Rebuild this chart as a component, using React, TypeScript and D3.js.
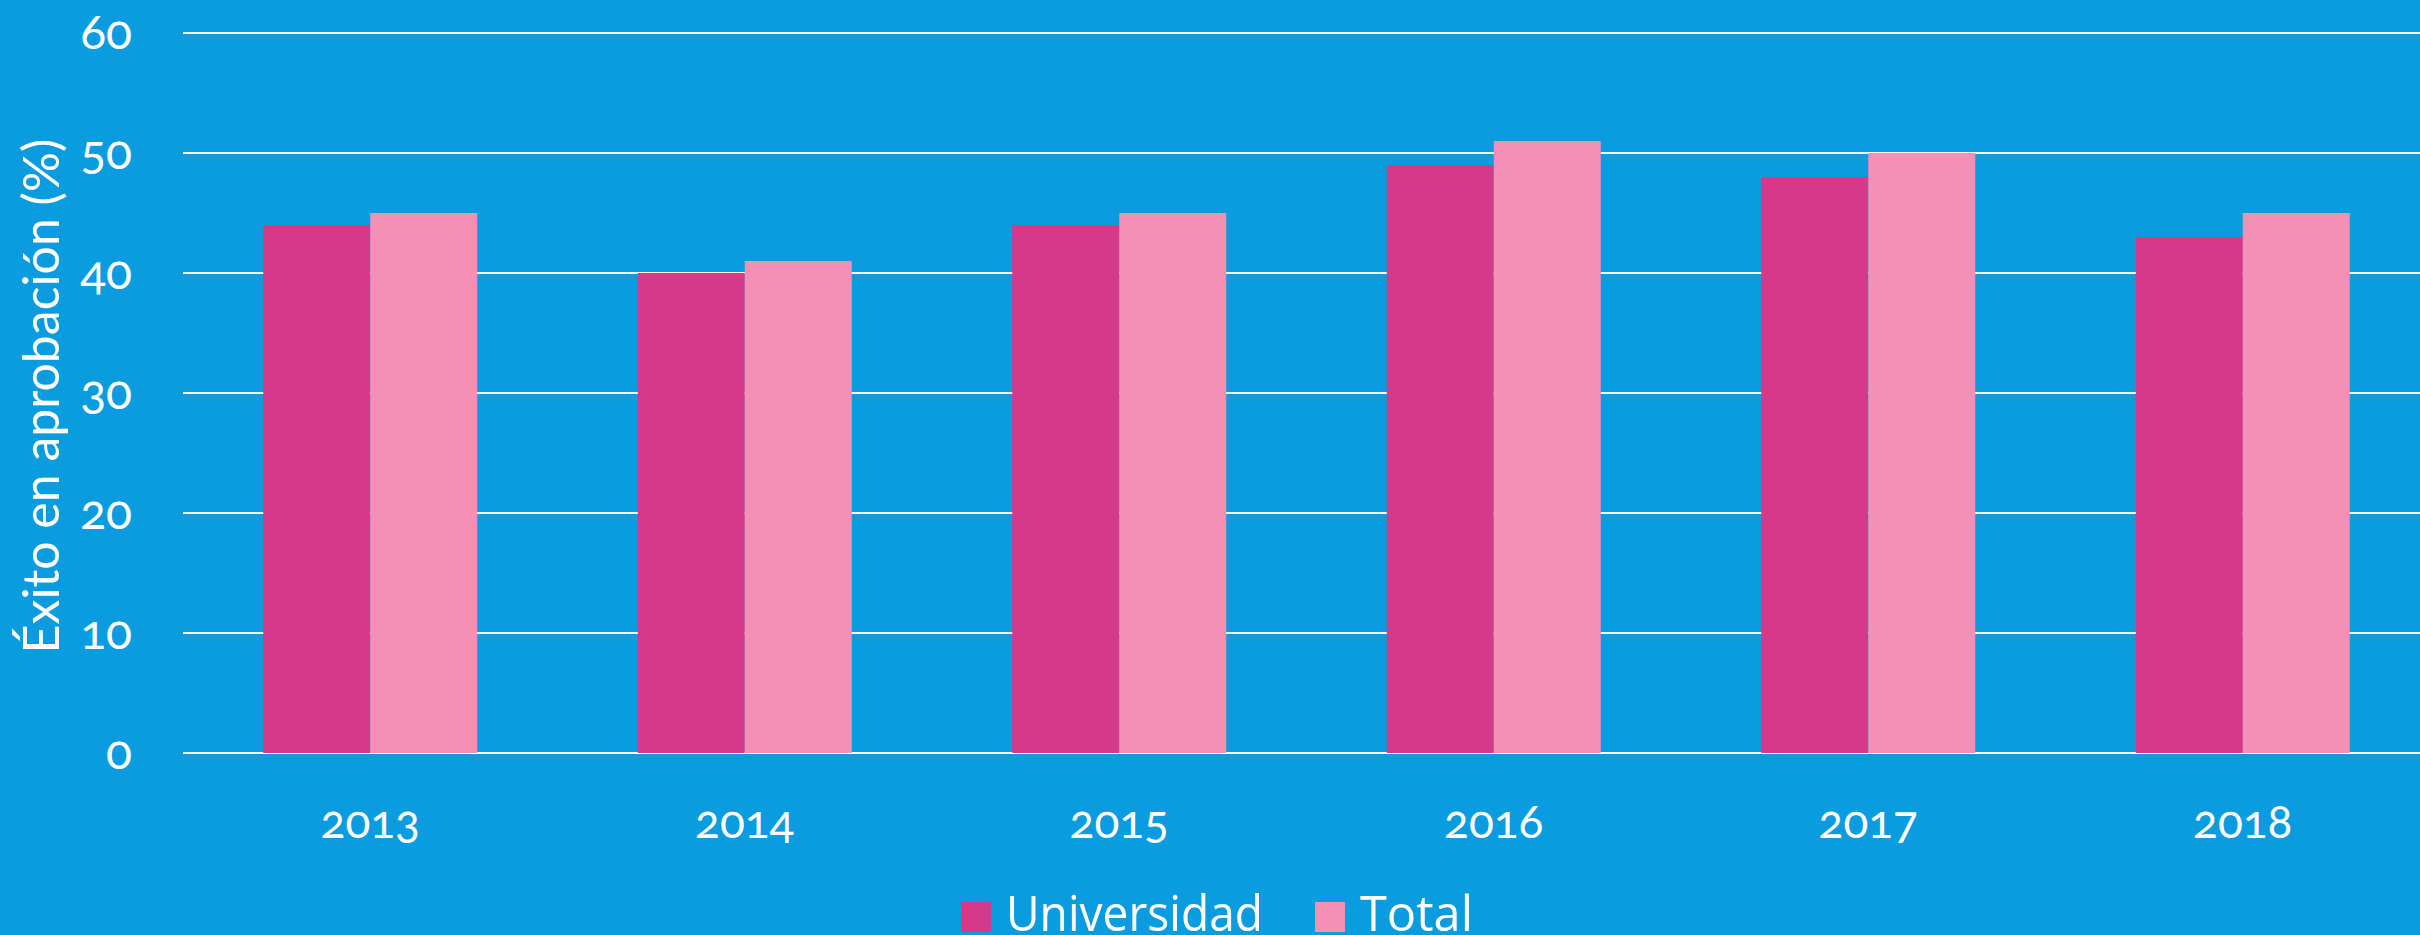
import React from "react";
import * as d3 from "d3";

const years = ["2013", "2014", "2015", "2016", "2017", "2018"];
const universidad = [44, 40, 44, 49, 48, 43];
const total = [45, 41, 45, 51, 50, 45];
const seriesNames = ["Universidad", "Total"];
const seriesColors = ["#D6388A", "#F48FB6"];
const yTicks = [0, 10, 20, 30, 40, 50, 60];

const W = 2420;
const H = 935;
const BG = "#0B9BDF";

export default function App() {
  const x0 = d3.scaleBand<string>().domain(years).range([183, 2430]).paddingInner(0.4286).paddingOuter(0.2143);
  const x1 = d3.scaleBand<string>().domain(seriesNames).range([0, x0.bandwidth()]).padding(0);
  const y = d3.scaleLinear().domain([0, 60]).range([753, 33]);
  const values = [universidad, total];
  const axisFont = "Lato, 'Open Sans', sans-serif";
  const legendFont = "'Open Sans', sans-serif";

  return (
    <svg width={W} height={H} style={{ position: "fixed", left: 0, top: 0, display: "block" }}>
      <rect x={0} y={0} width={W} height={H} fill={BG} />
      {yTicks.map((t) => (
        <g key={t}>
          <line x1={183} x2={W} y1={y(t)} y2={y(t)} stroke="#fff" strokeWidth={2} />
          <text
            x={132}
            y={y(t) + 16}
            textAnchor="end"
            fill="#fff"
            fontFamily={axisFont}
            fontSize={48}
            style={{ fontVariantNumeric: "oldstyle-nums" }}
          >
            {t}
          </text>
        </g>
      ))}
      {years.map((yr, i) => (
        <g key={yr} transform={`translate(${x0(yr)},0)`}>
          {seriesNames.map((s, j) => (
            <rect
              key={s}
              x={x1(s)}
              y={y(values[j][i])}
              width={x1.bandwidth()}
              height={y(0) - y(values[j][i])}
              fill={seriesColors[j]}
            />
          ))}
          <text
            x={x0.bandwidth() / 2}
            y={838}
            textAnchor="middle"
            fill="#fff"
            fontFamily={axisFont}
            fontSize={46}
            style={{ fontVariantNumeric: "oldstyle-nums" }}
          >
            {yr}
          </text>
        </g>
      ))}
      <text
        transform={`translate(59,396) rotate(-90)`}
        textAnchor="middle"
        fill="#fff"
        fontFamily={axisFont}
        fontSize={50}
      >
        Éxito en aprobación (%)
      </text>
      <g>
        <rect x={961} y={902} width={30} height={30} fill={seriesColors[0]} />
        <text x={1006} y={931} fill="#fff" fontFamily={legendFont} fontSize={50} textLength={257} lengthAdjust="spacingAndGlyphs">
          {seriesNames[0]}
        </text>
        <rect x={1315} y={902} width={30} height={30} fill={seriesColors[1]} />
        <text x={1360} y={931} fill="#fff" fontFamily={legendFont} fontSize={50} textLength={113} lengthAdjust="spacingAndGlyphs">
          {seriesNames[1]}
        </text>
      </g>
    </svg>
  );
}
